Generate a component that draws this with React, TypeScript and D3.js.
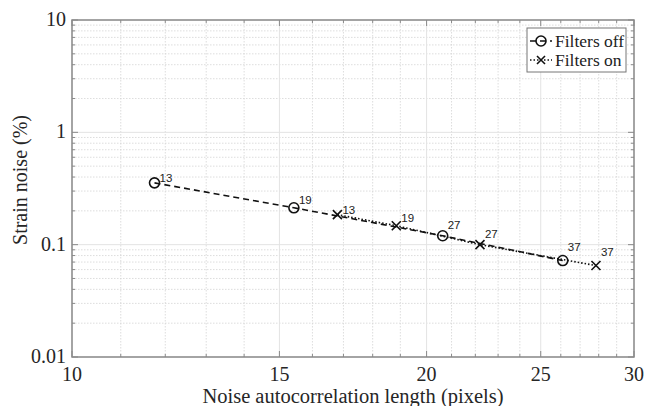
import React, { useEffect, useRef } from "react";
import { select, scaleLog, range, line } from "d3";

// data
const offX = [11.75, 15.43, 20.64, 26.1];
const offY = [0.355, 0.213, 0.12, 0.0722];
const offLabels = ["13", "19", "27", "37"];

const onX = [16.8, 18.85, 22.2, 27.85];
const onY = [0.185, 0.1475, 0.1, 0.0652];
const onLabels = ["13", "19", "27", "37"];

const xTicks = [10, 15, 20, 25, 30];
const yTicks = [0.01, 0.1, 1, 10];
const yTickLabels = ["0.01", "0.1", "1", "10"];

const xLabel = "Noise autocorrelation length (pixels)";
const yLabel = "Strain noise (%)";
const seriesNames = ["Filters off", "Filters on"];

const App = () => {
  const chartRef = useRef(null);

  useEffect(() => {
    const svg = select(chartRef.current);
    svg.selectAll("*").remove();

    const margin = { top: 20, right: 12, bottom: 49, left: 72 };
    const width = 646;
    const height = 406;
    const innerWidth = width - margin.left - margin.right;
    const innerHeight = height - margin.top - margin.bottom;

    const xScale = scaleLog().domain([10, 30]).range([0, innerWidth]);
    const yScale = scaleLog().domain([0.01, 10]).range([innerHeight, 0]);

    const axisColor = "#8a8a8a";
    const serif = "Liberation Serif, Times New Roman, serif";
    const sans = "Liberation Sans, Arial, sans-serif";

    const g = svg
      .append("g")
      .attr("transform", `translate(${margin.left},${margin.top})`);

    // minor grid
    const xMinor = range(11, 30).filter((v) => !xTicks.includes(v));
    const yMinor = [];
    [0.01, 0.1, 1].forEach((d) => {
      for (let k = 2; k <= 9; k++) yMinor.push(d * k);
    });

    g.selectAll(".xminor")
      .data(xMinor)
      .join("line")
      .attr("x1", (d) => xScale(d))
      .attr("x2", (d) => xScale(d))
      .attr("y1", 0)
      .attr("y2", innerHeight)
      .attr("stroke", "#d4d4d4")
      .attr("stroke-dasharray", "1.5 1.5")
      .attr("stroke-width", 0.8);

    g.selectAll(".yminor")
      .data(yMinor)
      .join("line")
      .attr("x1", 0)
      .attr("x2", innerWidth)
      .attr("y1", (d) => yScale(d))
      .attr("y2", (d) => yScale(d))
      .attr("stroke", "#d4d4d4")
      .attr("stroke-dasharray", "1.5 1.5")
      .attr("stroke-width", 0.8);

    // major grid
    g.selectAll(".xmajor")
      .data(xTicks)
      .join("line")
      .attr("x1", (d) => xScale(d))
      .attr("x2", (d) => xScale(d))
      .attr("y1", 0)
      .attr("y2", innerHeight)
      .attr("stroke", "#e3e3e3")
      .attr("stroke-width", 1);

    g.selectAll(".ymajor")
      .data(yTicks)
      .join("line")
      .attr("x1", 0)
      .attr("x2", innerWidth)
      .attr("y1", (d) => yScale(d))
      .attr("y2", (d) => yScale(d))
      .attr("stroke", "#e3e3e3")
      .attr("stroke-width", 1);

    // ticks (inward, on all four sides)
    const xAll = range(10, 31);
    const yAll = yTicks.concat(yMinor);
    const tickLen = (major) => (major ? 6 : 3);

    xAll.forEach((v) => {
      const len = tickLen(xTicks.includes(v));
      g.append("line")
        .attr("x1", xScale(v)).attr("x2", xScale(v))
        .attr("y1", innerHeight).attr("y2", innerHeight - len)
        .attr("stroke", axisColor);
      g.append("line")
        .attr("x1", xScale(v)).attr("x2", xScale(v))
        .attr("y1", 0).attr("y2", len)
        .attr("stroke", axisColor);
    });
    yAll.forEach((v) => {
      const len = tickLen(yTicks.includes(v));
      g.append("line")
        .attr("x1", 0).attr("x2", len)
        .attr("y1", yScale(v)).attr("y2", yScale(v))
        .attr("stroke", axisColor);
      g.append("line")
        .attr("x1", innerWidth).attr("x2", innerWidth - len)
        .attr("y1", yScale(v)).attr("y2", yScale(v))
        .attr("stroke", axisColor);
    });

    // frame
    g.append("rect")
      .attr("width", innerWidth)
      .attr("height", innerHeight)
      .attr("fill", "none")
      .attr("stroke", axisColor)
      .attr("stroke-width", 1.5);

    // tick labels
    g.selectAll(".xlab")
      .data(xTicks)
      .join("text")
      .attr("x", (d) => xScale(d))
      .attr("y", innerHeight + 24)
      .attr("text-anchor", "middle")
      .style("font-family", serif)
      .style("font-size", "20px")
      .attr("fill", "#262626")
      .text((d) => d);

    g.selectAll(".ylab")
      .data(yTicks)
      .join("text")
      .attr("x", -6)
      .attr("y", (d) => yScale(d) + 6)
      .attr("text-anchor", "end")
      .style("font-family", serif)
      .style("font-size", "20px")
      .attr("fill", "#262626")
      .text((d, i) => yTickLabels[i]);

    // axis titles
    svg.append("text")
      .attr("x", margin.left + innerWidth / 2)
      .attr("y", 403)
      .attr("text-anchor", "middle")
      .style("font-family", serif)
      .style("font-size", "20.5px")
      .attr("fill", "#262626")
      .text(xLabel);

    svg.append("text")
      .attr("transform", "translate(27,180) rotate(-90)")
      .attr("text-anchor", "middle")
      .style("font-family", serif)
      .style("font-size", "20px")
      .attr("fill", "#262626")
      .text(yLabel);

    const seriesLine = line()
      .x((d) => xScale(d[0]))
      .y((d) => yScale(d[1]));

    const offData = offX.map((x, i) => [x, offY[i]]);
    const onData = onX.map((x, i) => [x, onY[i]]);

    g.append("path")
      .attr("d", seriesLine(offData))
      .attr("fill", "none")
      .attr("stroke", "#111")
      .attr("stroke-width", 1.6)
      .attr("stroke-dasharray", "6 4");

    g.append("path")
      .attr("d", seriesLine(onData))
      .attr("fill", "none")
      .attr("stroke", "#111")
      .attr("stroke-width", 1.6)
      .attr("stroke-dasharray", "1.5 2");

    // markers
    g.selectAll(".offm")
      .data(offData)
      .join("circle")
      .attr("cx", (d) => xScale(d[0]))
      .attr("cy", (d) => yScale(d[1]))
      .attr("r", 5)
      .attr("fill", "none")
      .attr("stroke", "#111")
      .attr("stroke-width", 1.6);

    const xMark = (sel, s) =>
      sel
        .append("path")
        .attr("d", `M${-s},${-s}L${s},${s}M${-s},${s}L${s},${-s}`)
        .attr("stroke", "#111")
        .attr("stroke-width", 1.6)
        .attr("fill", "none");

    onData.forEach((d) => {
      const mg = g
        .append("g")
        .attr("transform", `translate(${xScale(d[0])},${yScale(d[1])})`);
      xMark(mg, 4.5);
    });

    // point labels
    const addLabels = (data, labels) => {
      g.selectAll(null)
        .data(data)
        .join("text")
        .attr("x", (d) => xScale(d[0]) + 5)
        .attr("y", (d, i) => yScale(d[1]) - 1 - i * 3)
        .style("font-family", sans)
        .style("font-size", "11.5px")
        .attr("fill", "#222")
        .text((d, i) => labels[i]);
    };
    addLabels(offData, offLabels);
    addLabels(onData, onLabels);

    // legend
    const lg = svg.append("g").attr("transform", "translate(527,28)");
    lg.append("rect")
      .attr("width", 99)
      .attr("height", 44)
      .attr("fill", "white")
      .attr("stroke", "#777")
      .attr("stroke-width", 1);

    seriesNames.forEach((name, i) => {
      const cy = 13 + i * 19;
      lg.append("line")
        .attr("x1", 3)
        .attr("x2", 25)
        .attr("y1", cy)
        .attr("y2", cy)
        .attr("stroke", "#111")
        .attr("stroke-width", 1.6)
        .attr("stroke-dasharray", i === 0 ? "6 4" : "1.5 2");
      if (i === 0) {
        lg.append("circle")
          .attr("cx", 14)
          .attr("cy", cy)
          .attr("r", 5)
          .attr("fill", "none")
          .attr("stroke", "#111")
          .attr("stroke-width", 1.6);
      } else {
        const mg = lg.append("g").attr("transform", `translate(14,${cy})`);
        xMark(mg, 4);
      }
      lg.append("text")
        .attr("x", 28)
        .attr("y", cy + 6)
        .style("font-family", serif)
        .style("font-size", "17.5px")
        .attr("fill", "#222")
        .text(name);
    });
  });

  return (
    <svg
      ref={chartRef}
      width="646"
      height="406"
      style={{ position: "absolute", left: 0, top: 0, background: "white" }}
    ></svg>
  );
};

export default App;
